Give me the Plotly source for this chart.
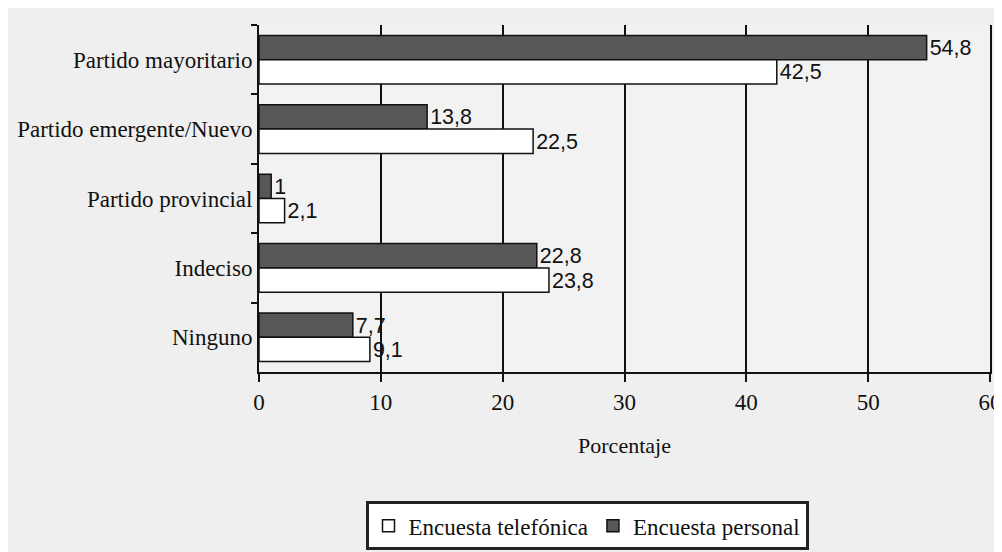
import plotly.graph_objects as go

categories = ["Partido mayoritario", "Partido emergente/Nuevo", "Partido provincial", "Indeciso", "Ninguno"]
personal = [54.8, 13.8, 1.0, 22.8, 7.7]
telefonica = [42.5, 22.5, 2.1, 23.8, 9.1]
x_ticks = [0, 10, 20, 30, 40, 50, 60]

SERIF = "Liberation Serif, Times New Roman, serif"
SANS = "Liberation Sans, Arial, sans-serif"

def fmt(v):
    s = ("%.1f" % v).replace(".", ",")
    return s[:-2] if s.endswith(",0") else s

fig = go.Figure()
fig.add_trace(go.Bar(
    y=categories, x=personal, orientation="h", name="Encuesta personal",
    marker=dict(color="#575757", line=dict(color="#111111", width=1.5)),
    text=[fmt(v) for v in personal], textposition="outside",
    textfont=dict(family=SANS, size=23, color="#111111"),
    cliponaxis=False, legendrank=2,
))
fig.add_trace(go.Bar(
    y=categories, x=telefonica, orientation="h", name="Encuesta telefónica",
    marker=dict(color="#ffffff", line=dict(color="#111111", width=1.5)),
    text=[fmt(v) for v in telefonica], textposition="outside",
    textfont=dict(family=SANS, size=23, color="#111111"),
    cliponaxis=False, legendrank=1,
))

fig.update_layout(
    width=994, height=544,
    margin=dict(l=251, r=12, t=17, b=180, autoexpand=False),
    paper_bgcolor="#efefef", plot_bgcolor="#f2f2f2",
    barmode="group", bargap=0.3, bargroupgap=0.0,
    font=dict(family=SERIF, size=22, color="#111111"),
    xaxis=dict(
        range=[0, 60], tickvals=x_ticks, ticktext=[str(t) for t in x_ticks],
        showgrid=True, gridcolor="#111111", gridwidth=2,
        showline=True, linecolor="#111111", linewidth=2,
        ticks="outside", ticklen=8, tickwidth=2, tickcolor="#111111",
        tickfont=dict(family=SERIF, size=23),
        title=dict(text="Porcentaje", font=dict(family=SERIF, size=22), standoff=24),
        zeroline=False, automargin=False,
    ),
    yaxis=dict(
        autorange="reversed", showline=True, mirror=True, linecolor="#111111", linewidth=2,
        ticks="outside", tickson="boundaries", ticklen=6, tickwidth=2, tickcolor="#111111",
        tickfont=dict(family=SERIF, size=23),
        showgrid=False, automargin=False,
    ),
    legend=dict(
        orientation="h", xref="container", yref="container",
        x=0.5825, xanchor="center", y=0.048, yanchor="middle",
        bordercolor="#222222", borderwidth=3, bgcolor="#ffffff",
        font=dict(family=SERIF, size=23),
        itemwidth=30,
    ),
    showlegend=True,
)

fig.write_html("out.html")
